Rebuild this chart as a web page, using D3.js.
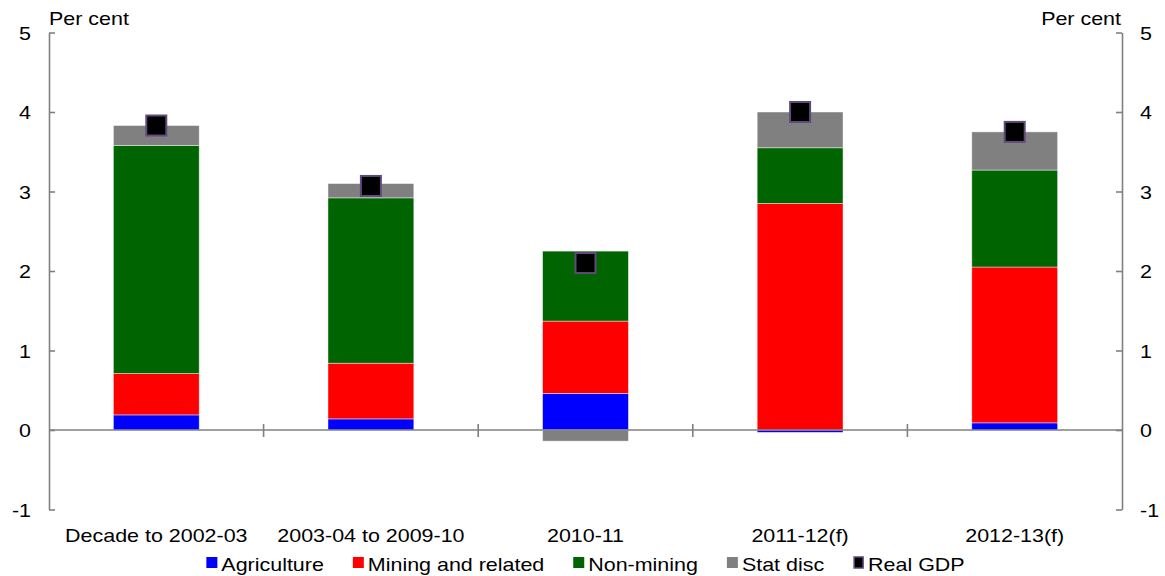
<!DOCTYPE html>
<html>
<head>
<meta charset="utf-8">
<script src="https://cdn.jsdelivr.net/npm/d3@7"></script>
<style>
  html, body { margin: 0; padding: 0; background: #fff; }
  svg { display: block; }
  text { font-family: "Liberation Sans", Arial, sans-serif; fill: #000; }
</style>
</head>
<body>
<svg id="chart" width="1165" height="576"></svg>
<script>
// Contributions to real GDP growth, percentage points
const categories = ["Decade to 2002-03", "2003-04 to 2009-10", "2010-11", "2011-12(f)", "2012-13(f)"];
const agriculture = [0.19, 0.14, 0.46, -0.03, 0.09];
const mining      = [0.52, 0.70, 0.91, 2.85, 1.96];
const nonMining   = [2.87, 2.08, 0.88, 0.70, 1.22];
const statDisc    = [0.25, 0.18, -0.14, 0.45, 0.48];
const realGDP     = [3.83, 3.07, 2.10, 4.00, 3.75];
const yTicks = [-1, 0, 1, 2, 3, 4, 5];

const seriesNames = ["Agriculture", "Mining and related", "Non-mining", "Stat disc"];
const seriesColors = ["#0000ff", "#ff0000", "#006400", "#808080"];
const gdpName = "Real GDP";

const rows = categories.map((c, i) => ({
  category: c,
  "Agriculture": agriculture[i],
  "Mining and related": mining[i],
  "Non-mining": nonMining[i],
  "Stat disc": statDisc[i]
}));

const svg = d3.select("#chart");
const plotLeft = 49, plotRight = 1122, plotTop = 32.5, plotBottom = 509.5;
const SX = 1.16;      // horizontal text stretch
const FS = 18.5;      // font size

const x = d3.scaleBand().domain(categories).range([plotLeft, plotRight]).paddingInner(0.6).paddingOuter(0.3);
const xb = d3.scaleBand().domain(categories).range([plotLeft, plotRight]); // category boundaries
const y = d3.scaleLinear().domain([-1, 5]).range([plotBottom, plotTop]);
const color = d3.scaleOrdinal().domain(seriesNames).range(seriesColors);

function label(g, px, py, str, anchor) {
  return g.append("text")
    .attr("transform", `translate(${px},${py}) scale(${SX},1)`)
    .attr("text-anchor", anchor || "start")
    .style("font-size", FS + "px")
    .text(str);
}

// stacked bars
const stack = d3.stack().keys(seriesNames).offset(d3.stackOffsetDiverging);
const layers = stack(rows);
const barG = svg.append("g");
barG.selectAll("g").data(layers).join("g")
  .attr("fill", d => color(d.key))
  .selectAll("rect").data(d => d).join("rect")
    .attr("x", d => x(d.data.category))
    .attr("width", x.bandwidth())
    .attr("y", d => y(Math.max(d[0], d[1])))
    .attr("height", d => Math.abs(y(d[0]) - y(d[1])))
    .attr("stroke", "#ffffff")
    .attr("stroke-opacity", 0.55)
    .attr("stroke-width", 0.8);

// axes
const axisColor = "#808080";
const gl = svg.append("g").attr("transform", `translate(${plotLeft},0)`)
  .call(d3.axisLeft(y).tickValues(yTicks).tickSize(-6).tickSizeOuter(0).tickFormat(""));
const gr = svg.append("g").attr("transform", `translate(${plotRight},0)`)
  .call(d3.axisRight(y).tickValues(yTicks).tickSize(-6).tickSizeOuter(0).tickFormat(""));
[gl, gr].forEach(g => {
  g.selectAll("path, line").attr("stroke", axisColor).attr("stroke-width", 1.6);
});

// zero line with category separators
const gx = svg.append("g").attr("transform", `translate(0,${y(0)})`);
gx.append("line").attr("x1", plotLeft).attr("x2", plotRight)
  .attr("stroke", axisColor).attr("stroke-width", 1.6);
gx.selectAll(".sep").data(categories.slice(1)).join("line")
  .attr("class", "sep")
  .attr("x1", d => xb(d)).attr("x2", d => xb(d))
  .attr("y1", -6).attr("y2", 7)
  .attr("stroke", axisColor).attr("stroke-width", 1.6);

// tick labels
const tl = svg.append("g");
yTicks.forEach(v => {
  label(tl, 31, y(v) + 7, String(v), "end");
  label(tl, 1140, y(v) + 7, String(v), "start");
});
label(tl, plotLeft, 25, "Per cent", "start");
label(tl, plotRight - 1, 25, "Per cent", "end");

// category labels
categories.forEach(c => label(tl, x(c) + x.bandwidth() / 2, 542, c, "middle"));

// Real GDP markers
svg.append("g").selectAll("rect").data(realGDP).join("rect")
  .attr("x", (d, i) => x(categories[i]) + x.bandwidth() / 2 - 10)
  .attr("y", d => y(d) - 10)
  .attr("width", 20).attr("height", 20)
  .attr("fill", "#000")
  .attr("stroke", "#604a7b")
  .attr("stroke-width", 2);

// legend
const legendItems = seriesNames.map(n => ({ name: n, color: color(n), gdp: false }))
  .concat([{ name: gdpName, color: "#000", gdp: true }]);
const lg = svg.append("g");
const sq = 11, sqGap = 4, itemGap = 29, ly = 571;
const items = legendItems.map(it => {
  const t = label(lg, 0, ly, it.name, "start");
  const w = t.node().getComputedTextLength() * SX;
  return { ...it, t, w };
});
const total = d3.sum(items, d => sq + sqGap + d.w) + itemGap * (items.length - 1);
let cx = (plotLeft + plotRight) / 2 - total / 2;
items.forEach(it => {
  const r = lg.append("rect")
    .attr("x", cx).attr("y", ly - 14)
    .attr("width", sq).attr("height", sq)
    .attr("fill", it.color);
  if (it.gdp) r.attr("stroke", "#604a7b").attr("stroke-width", 1.5)
    .attr("x", cx + 1).attr("width", sq - 2);
  it.t.attr("transform", `translate(${cx + sq + sqGap},${ly}) scale(${SX},1)`);
  cx += sq + sqGap + it.w + itemGap;
});
</script>
</body>
</html>
